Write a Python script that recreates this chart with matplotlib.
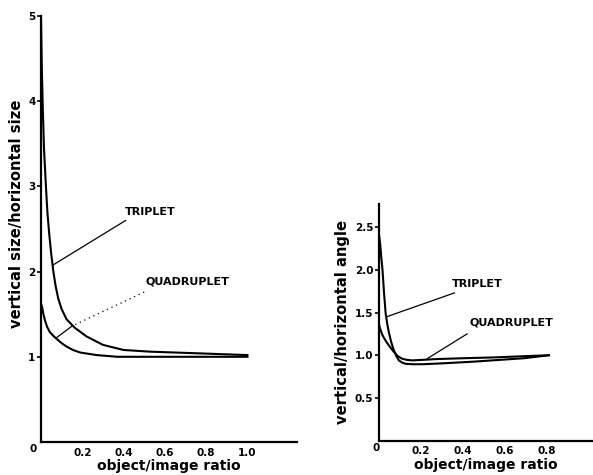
import matplotlib
matplotlib.use("Agg")
import matplotlib.pyplot as plt

# left panel: vertical size / horizontal size
size_x_triplet = [0.0, 0.004, 0.009, 0.0145, 0.024, 0.031, 0.040, 0.050, 0.060, 0.071,
                  0.084, 0.10, 0.124, 0.164, 0.22, 0.30, 0.40, 0.53, 0.77, 1.0]
size_y_triplet = [5.0, 4.4, 3.9, 3.45, 3.0, 2.7, 2.44, 2.2, 2.0, 1.83,
                  1.68, 1.56, 1.44, 1.34, 1.24, 1.14, 1.08, 1.06, 1.04, 1.02]
size_x_quad = [0.0, 0.005, 0.011, 0.019, 0.030, 0.043, 0.058, 0.076, 0.10, 0.124,
               0.155, 0.19, 0.27, 0.37, 0.55, 0.8, 1.0]
size_y_quad = [1.62, 1.59, 1.51, 1.43, 1.35, 1.29, 1.25, 1.21, 1.16, 1.12,
               1.08, 1.05, 1.02, 1.0, 1.0, 1.0, 1.0]

# right panel: vertical / horizontal angle
ang_x_triplet = [0.0, 0.006, 0.011, 0.017, 0.024, 0.032, 0.040, 0.048, 0.059, 0.071,
                 0.083, 0.095, 0.110, 0.127, 0.16, 0.21, 0.30, 0.45, 0.60, 0.69, 0.81]
ang_y_triplet = [2.42, 2.3, 2.15, 2.0, 1.74, 1.49, 1.36, 1.26, 1.15, 1.06,
                 0.99, 0.94, 0.915, 0.90, 0.895, 0.895, 0.905, 0.925, 0.95, 0.965, 1.0]
ang_x_quad = [0.0, 0.006, 0.016, 0.027, 0.040, 0.055, 0.071, 0.090, 0.11, 0.135,
              0.16, 0.20, 0.27, 0.40, 0.55, 0.70, 0.81]
ang_y_quad = [1.36, 1.31, 1.24, 1.19, 1.14, 1.09, 1.04, 0.99, 0.96, 0.945,
              0.94, 0.945, 0.955, 0.965, 0.975, 0.99, 1.0]

left_xticks = [0.2, 0.4, 0.6, 0.8, 1.0]
left_xlabels = ["0.2", "0.4", "0.6", "0.8", "1.0"]
left_yticks = [1, 2, 3, 4, 5]
right_xticks = [0.2, 0.4, 0.6, 0.8]
right_xlabels = ["0.2", "0.4", "0.6", "0.8"]
right_yticks = [0.5, 1.0, 1.5, 2.0, 2.5]
right_ylabels = ["0.5", "1.0", "1.5", "2.0", "2.5"]

plt.rcParams["font.family"] = "DejaVu Sans"
plt.rcParams["font.weight"] = "bold"

fig = plt.figure(figsize=(5.93, 4.75), dpi=100)
ax1 = fig.add_axes([0.0691, 0.0695, 0.4317, 0.8968])
ax2 = fig.add_axes([0.639, 0.0722, 0.361, 0.4983])


def style_axes(ax, zero_dx):
    for side in ("top", "right"):
        ax.spines[side].set_visible(False)
    for side in ("left", "bottom"):
        ax.spines[side].set_linewidth(1.6)
    ax.tick_params(axis="y", direction="out", length=3, width=1.2, pad=1, labelsize=7.5)
    ax.tick_params(axis="x", length=0, pad=4, labelsize=7.5)
    for lab in ax.get_xticklabels() + ax.get_yticklabels():
        lab.set_fontweight("bold")
    # lone "0" at the origin
    ax.annotate("0", xy=(0, 0), xycoords="axes fraction", xytext=(zero_dx, -7),
                textcoords="offset pixels", ha="center", va="center",
                fontsize=7.5, fontweight="bold")


# left panel
ax1.plot(size_x_triplet, size_y_triplet, color="black", lw=1.5)
ax1.plot(size_x_quad, size_y_quad, color="black", lw=1.5)
ax1.set_xlim(0, 1.24)
ax1.set_ylim(0, 5.0)
ax1.set_xticks(left_xticks, left_xlabels)
ax1.set_yticks(left_yticks)
style_axes(ax1, -8)
ax1.set_xlabel("object/image ratio", fontsize=10, fontweight="bold", labelpad=1)
ax1.set_ylabel("vertical size/horizontal size", fontsize=10.6, fontweight="bold")
ax1.yaxis.set_label_coords(-0.068, 0.535)

ax1.text(0.53, 2.7, "TRIPLET", fontsize=8, fontweight="bold", ha="center", va="center")
ax1.plot([0.41, 0.06], [2.6, 2.08], color="black", lw=0.9)
ax1.text(0.71, 1.88, "QUADRUPLET", fontsize=8, fontweight="bold", ha="center", va="center")
ax1.plot([0.50, 0.15], [1.76, 1.36], color="black", lw=0.9, ls=(0, (1, 3)))
ax1.plot([0.15, 0.073], [1.36, 1.22], color="black", lw=0.9)

# right panel
ax2.plot(ang_x_triplet, ang_y_triplet, color="black", lw=1.5)
ax2.plot(ang_x_quad, ang_y_quad, color="black", lw=1.5)
ax2.set_xlim(0, 1.02)
ax2.set_ylim(0, 2.77)
ax2.set_xticks(right_xticks, right_xlabels)
ax2.set_yticks(right_yticks, right_ylabels)
style_axes(ax2, -3)
ax2.set_xlabel("object/image ratio", fontsize=10, fontweight="bold", labelpad=1)
ax2.set_ylabel("vertical/horizontal angle", fontsize=10.6, fontweight="bold")
ax2.yaxis.set_label_coords(-0.135, 0.5)

ax2.text(0.47, 1.83, "TRIPLET", fontsize=8, fontweight="bold", ha="center", va="center")
ax2.plot([0.36, 0.036], [1.73, 1.45], color="black", lw=0.9)
ax2.text(0.63, 1.38, "QUADRUPLET", fontsize=8, fontweight="bold", ha="center", va="center")
ax2.plot([0.42, 0.23], [1.25, 0.96], color="black", lw=0.9)

fig.savefig("out.png", dpi=100)
